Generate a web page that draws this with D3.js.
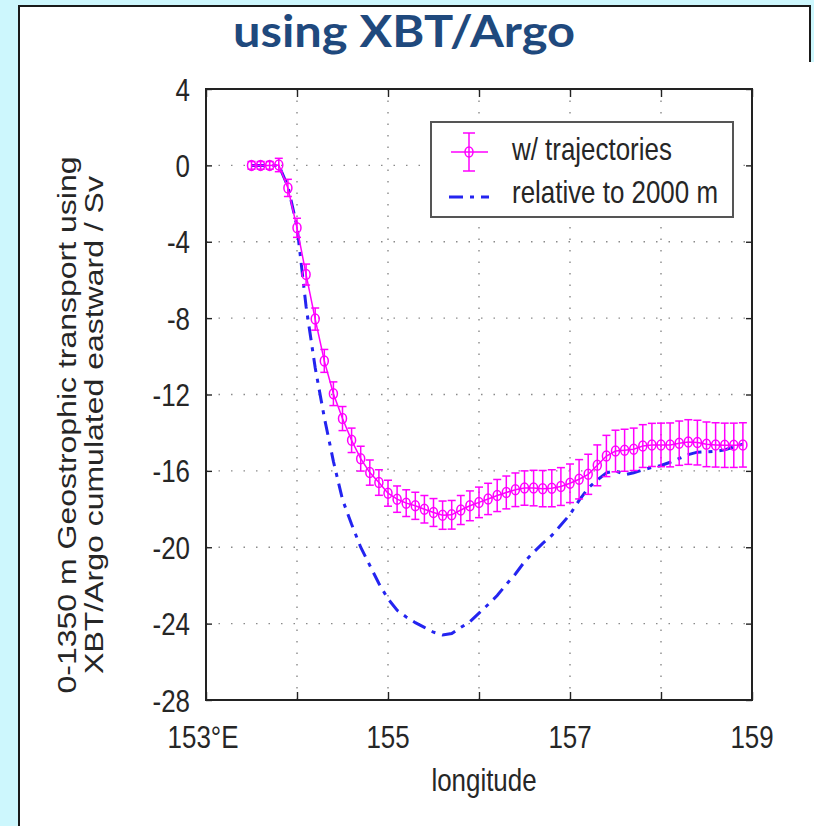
<!DOCTYPE html>
<html>
<head>
<meta charset="utf-8">
<script src="https://cdn.jsdelivr.net/npm/d3@7"></script>
<style>
  html, body { margin: 0; padding: 0; background: #ffffff; }
  svg { display: block; }
</style>
</head>
<body>
<svg id="chart" width="814" height="826"></svg>
<script>
// Longitudes of the transport sections (degrees east)
const longitudes = [
  153.5, 153.6, 153.7, 153.8, 153.9,
  154.0, 154.1, 154.2, 154.3, 154.4, 154.5, 154.6, 154.7, 154.8, 154.9,
  155.0, 155.1, 155.2, 155.3, 155.4, 155.5, 155.6, 155.7, 155.8, 155.9,
  156.0, 156.1, 156.2, 156.3, 156.4, 156.5, 156.6, 156.7, 156.8, 156.9,
  157.0, 157.1, 157.2, 157.3, 157.4, 157.5, 157.6, 157.7, 157.8, 157.9,
  158.0, 158.1, 158.2, 158.3, 158.4, 158.5, 158.6, 158.7, 158.8, 158.9
];

// Cumulative transport referenced with trajectories (Sv)
const withTrajectories = [
  0, 0, 0, 0.02, -1.18,
  -3.27, -5.72, -8.05, -10.24, -11.96, -13.26, -14.40, -15.36, -16.09, -16.61,
  -17.17, -17.48, -17.69, -17.83, -18.01, -18.18, -18.32, -18.30, -18.05, -17.83,
  -17.65, -17.47, -17.29, -17.13, -16.99, -16.90, -16.90, -16.93, -16.91, -16.82,
  -16.65, -16.44, -16.18, -15.71, -15.22, -14.96, -14.92, -14.87, -14.70, -14.64,
  -14.64, -14.64, -14.55, -14.49, -14.52, -14.61, -14.64, -14.66, -14.66, -14.64
];

// Uncertainty of the trajectory-referenced transport (Sv)
const trajectoryError = [
  0.2, 0.2, 0.2, 0.35, 0.45,
  0.5, 0.55, 0.58, 0.6, 0.62, 0.63, 0.64, 0.65, 0.66, 0.67,
  0.68, 0.69, 0.7, 0.71, 0.72, 0.73, 0.74, 0.75, 0.76, 0.78,
  0.8, 0.82, 0.84, 0.86, 0.88, 0.9, 0.93, 0.95, 0.97, 0.99,
  1.01, 1.03, 1.05, 1.07, 1.08, 1.09, 1.1, 1.11, 1.12, 1.13,
  1.14, 1.15, 1.16, 1.17, 1.17, 1.17, 1.16, 1.16, 1.16, 1.16
];

// Cumulative transport relative to 2000 m (Sv)
const relativeTo2000 = [
  0, 0, 0, 0, -1.1,
  -3.2, -7.4, -10.6, -13.2, -15.5, -17.5, -18.8, -20.0, -20.95, -21.9,
  -22.7, -23.3, -23.65, -23.95, -24.2, -24.45, -24.6, -24.52, -24.2, -23.9,
  -23.45, -23.0, -22.53, -21.94, -21.4, -20.76, -20.26, -19.8, -19.38, -18.84,
  -18.28, -17.55, -16.9, -16.48, -16.1, -16.0, -16.2, -16.1, -15.95, -15.82,
  -15.72, -15.55, -15.35, -15.15, -15.02, -15.0, -14.97, -14.9, -14.75, -14.6
];

const xTickValues = [153, 154, 155, 156, 157, 158, 159];
const xTickLabels = {153: "153°E", 155: "155", 157: "157", 159: "159"};
const yTickValues = [4, 0, -4, -8, -12, -16, -20, -24, -28];

const titleText = "using XBT/Argo";
const xAxisTitle = "longitude";
const yAxisTitle = ["0-1350 m Geostrophic transport using", "XBT/Argo cumulated eastward / Sv"];
const seriesNames = ["w/ trajectories", "relative to 2000 m"];

const svg = d3.select("#chart");

// Slide panel: cyan surround, white panel with a dark border on top and left;
// the figure itself covers the panel's right border below the title strip.
const slideCyan = "#cdf7fd";
svg.append("rect").attr("x", 0).attr("y", 0).attr("width", 814).attr("height", 826).attr("fill", "#ffffff");
svg.append("rect").attr("x", 0).attr("y", 0).attr("width", 19).attr("height", 826).attr("fill", slideCyan);
svg.append("rect").attr("x", 0).attr("y", 0).attr("width", 814).attr("height", 6).attr("fill", slideCyan);
svg.append("rect").attr("x", 811).attr("y", 0).attr("width", 3).attr("height", 62).attr("fill", slideCyan);
const border = svg.append("g").attr("stroke", "#1a1a1a").attr("stroke-width", 2);
border.append("line").attr("x1", 19).attr("x2", 19).attr("y1", 5).attr("y2", 826);
border.append("line").attr("x1", 18).attr("x2", 811).attr("y1", 6).attr("y2", 6);
border.append("line").attr("x1", 810).attr("x2", 810).attr("y1", 5).attr("y2", 62);

// Title
svg.append("text")
  .attr("x", 404).attr("y", 47)
  .attr("text-anchor", "middle")
  .attr("font-family", "Lato, 'Open Sans', sans-serif")
  .attr("font-weight", 700)
  .attr("font-size", 44)
  .attr("fill", "#1f497d")
  .attr("textLength", 342)
  .attr("lengthAdjust", "spacingAndGlyphs")
  .text(titleText);

const plot = {left: 206, right: 752, top: 89, bottom: 700};
const x = d3.scaleLinear().domain([153, 159]).range([plot.left, plot.right]);
const y = d3.scaleLinear().domain([-28, 4]).range([plot.bottom, plot.top]);

const fontFamily = "'Liberation Sans', Arial, Helvetica, sans-serif";
const fontSize = 32;
const squeeze = 0.81;   // glyphs are narrower than tall
const textColor = "#262626";

// Dotted grid
const grid = svg.append("g").attr("stroke", "#8a8a8a").attr("stroke-width", 1.4).attr("fill", "none");
grid.selectAll("line.gx").data(xTickValues.slice(1, -1)).join("line")
  .attr("x1", d => x(d)).attr("x2", d => x(d))
  .attr("y1", plot.top).attr("y2", plot.bottom)
  .attr("stroke-dasharray", "1.5,10");
grid.selectAll("line.gy").data(yTickValues.slice(1, -1)).join("line")
  .attr("x1", plot.left).attr("x2", plot.right)
  .attr("y1", d => y(d)).attr("y2", d => y(d))
  .attr("stroke-dasharray", "1.5,11");

// Axes with inward ticks on all four sides
const axisStyle = g => {
  g.selectAll("text").remove();
  g.select(".domain").remove();
  g.selectAll(".tick line").attr("stroke", "#222").attr("stroke-width", 1.4);
};
svg.append("g").attr("transform", `translate(0,${plot.bottom})`)
  .call(d3.axisBottom(x).tickValues(xTickValues).tickSizeInner(-8).tickSizeOuter(0)).call(axisStyle);
svg.append("g").attr("transform", `translate(0,${plot.top})`)
  .call(d3.axisTop(x).tickValues(xTickValues).tickSizeInner(-8).tickSizeOuter(0)).call(axisStyle);
svg.append("g").attr("transform", `translate(${plot.left},0)`)
  .call(d3.axisLeft(y).tickValues(yTickValues).tickSizeInner(-6).tickSizeOuter(0)).call(axisStyle);
svg.append("g").attr("transform", `translate(${plot.right},0)`)
  .call(d3.axisRight(y).tickValues(yTickValues).tickSizeInner(-6).tickSizeOuter(0)).call(axisStyle);

// Frame
svg.append("rect")
  .attr("x", plot.left).attr("y", plot.top)
  .attr("width", plot.right - plot.left).attr("height", plot.bottom - plot.top)
  .attr("fill", "none").attr("stroke", "#222").attr("stroke-width", 2);

// Tick labels
svg.selectAll("text.xl").data(xTickValues.filter(v => xTickLabels[v])).join("text")
  .attr("class", "xl")
  .attr("transform", d => `translate(${x(d) - (d === 153 ? 3 : 0)},748) scale(${squeeze},1)`)
  .attr("text-anchor", "middle")
  .attr("font-family", fontFamily).attr("font-size", fontSize).attr("fill", textColor)
  .text(d => xTickLabels[d]);
svg.selectAll("text.yl").data(yTickValues).join("text")
  .attr("class", "yl")
  .attr("transform", d => `translate(190,${y(d) + 11.5}) scale(${squeeze},1)`)
  .attr("text-anchor", "end")
  .attr("font-family", fontFamily).attr("font-size", fontSize).attr("fill", textColor)
  .text(d => d);

// Axis titles
svg.append("text")
  .attr("transform", `translate(484,791) scale(${squeeze},1)`)
  .attr("text-anchor", "middle")
  .attr("font-family", fontFamily).attr("font-size", fontSize).attr("fill", textColor)
  .text(xAxisTitle);
yAxisTitle.forEach((line, i) => {
  svg.append("text")
    .attr("transform", `translate(${76 + i * 27},425) scale(${squeeze},1) rotate(-90)`)
    .attr("text-anchor", "middle")
    .attr("font-family", fontFamily).attr("font-size", fontSize).attr("fill", textColor)
    .text(line);
});

// Data
const magenta = "#ff00ff";
const blue = "#2424f0";
const dashDot = "14,7,4,7";
const pts = longitudes.map((lon, i) => ({lon, v: withTrajectories[i], e: trajectoryError[i], r: relativeTo2000[i]}));

svg.append("clipPath").attr("id", "plotclip").append("rect")
  .attr("x", plot.left).attr("y", plot.top).attr("width", plot.right - plot.left).attr("height", plot.bottom - plot.top);

const layer = svg.append("g").attr("clip-path", "url(#plotclip)");

// Relative-to-2000 m line (dash-dot)
layer.append("path")
  .datum(pts)
  .attr("fill", "none").attr("stroke", blue).attr("stroke-width", 3)
  .attr("stroke-dasharray", dashDot)
  .attr("d", d3.line().x(d => x(d.lon)).y(d => y(d.r)));

// Trajectory-referenced line with error bars and markers
layer.append("path")
  .datum(pts)
  .attr("fill", "none").attr("stroke", magenta).attr("stroke-width", 1.5)
  .attr("d", d3.line().x(d => x(d.lon)).y(d => y(d.v)));

const eb = layer.append("g").attr("stroke", magenta).attr("stroke-width", 1.5).attr("fill", "none");
const capHalf = 4;
eb.selectAll("g").data(pts).join("g").each(function(d) {
  const g = d3.select(this);
  const cx = x(d.lon);
  g.append("line").attr("x1", cx).attr("x2", cx).attr("y1", y(d.v + d.e)).attr("y2", y(d.v - d.e));
  g.append("line").attr("x1", cx - capHalf).attr("x2", cx + capHalf).attr("y1", y(d.v + d.e)).attr("y2", y(d.v + d.e));
  g.append("line").attr("x1", cx - capHalf).attr("x2", cx + capHalf).attr("y1", y(d.v - d.e)).attr("y2", y(d.v - d.e));
  g.append("ellipse").attr("cx", cx).attr("cy", y(d.v)).attr("rx", 4).attr("ry", 5);
});

// Legend
const legend = svg.append("g");
legend.append("rect")
  .attr("x", 431).attr("y", 122).attr("width", 302).attr("height", 95)
  .attr("fill", "#ffffff").attr("stroke", "#555").attr("stroke-width", 2);
const l1 = legend.append("g").attr("stroke", magenta).attr("stroke-width", 1.5).attr("fill", "none");
l1.append("line").attr("x1", 469).attr("x2", 469).attr("y1", 133).attr("y2", 171);
l1.append("line").attr("x1", 463).attr("x2", 475).attr("y1", 133).attr("y2", 133);
l1.append("line").attr("x1", 463).attr("x2", 475).attr("y1", 171).attr("y2", 171);
l1.append("line").attr("x1", 451).attr("x2", 488).attr("y1", 152).attr("y2", 152);
l1.append("ellipse").attr("cx", 469).attr("cy", 152).attr("rx", 4).attr("ry", 5);
legend.append("line")
  .attr("x1", 449).attr("x2", 489).attr("y1", 197).attr("y2", 197)
  .attr("stroke", blue).attr("stroke-width", 3).attr("stroke-dasharray", dashDot);
seriesNames.forEach((name, i) => {
  legend.append("text")
    .attr("transform", `translate(512,${160 + i * 43}) scale(${squeeze},1)`)
    .attr("font-family", fontFamily).attr("font-size", fontSize).attr("fill", textColor)
    .text(name);
});
</script>
</body>
</html>
